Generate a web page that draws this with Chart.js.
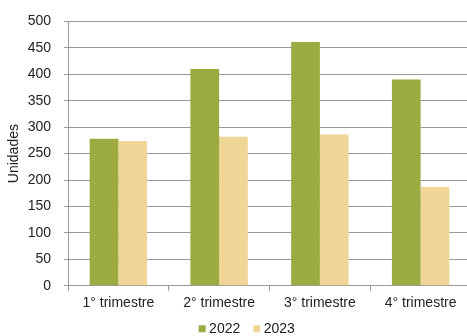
<!DOCTYPE html>
<html>
<head>
<meta charset="utf-8">
<script src="https://cdn.jsdelivr.net/npm/chart.js@4/dist/chart.umd.min.js"></script>
<style>
  html, body { margin: 0; padding: 0; background: #fff; overflow: hidden; }
  #wrap { width: 472px; height: 336px; }
</style>
</head>
<body>
<div id="wrap"><canvas id="myChart" width="472" height="336"></canvas></div>
<script>
const quarters = ['1° trimestre', '2° trimestre', '3° trimestre', '4° trimestre'];
const units2022 = [278, 410, 461, 390];
const units2023 = [274, 282, 286, 187];
const yTicks = [0, 50, 100, 150, 200, 250, 300, 350, 400, 450, 500];

// nudge the legend a little, Chart.js ties item spacing to vertical padding
const legendNudge = {
    id: 'legendNudge',
    afterLayout(chart, args, opts) {
        const lg = chart.legend;
        lg.left += opts.dx; lg.right += opts.dx;
        lg.top += opts.dy;
        lg.bottom = chart.height;
    }
};

const font = { family: 'Liberation Sans, Arial, sans-serif', size: 14 };
const gridColor = '#9a9a9a';

new Chart(document.getElementById('myChart').getContext('2d'), {
    type: 'bar',
    data: {
        labels: quarters,
        datasets: [
            { label: '2022', data: units2022, backgroundColor: '#9baa41', borderWidth: 0 },
            { label: '2023', data: units2023, backgroundColor: '#f0d696', borderWidth: 0 }
        ]
    },
    plugins: [legendNudge],
    options: {
        responsive: false,
        animation: false,
        layout: { padding: { top: 18.5, right: 1, left: 0, bottom: 0 } },
        categoryPercentage: 0.57,
        barPercentage: 1,
        plugins: {
            tooltip: { enabled: false },
            legendNudge: { dx: 13, dy: -5.8 },
            legend: {
                position: 'bottom',
                maxHeight: 24.9,
                labels: {
                    font: font,
                    color: '#222',
                    usePointStyle: true,
                    pointStyle: 'rect',
                    boxWidth: 0.01,
                    boxHeight: 7,
                    padding: 16.5
                }
            }
        },
        scales: {
            x: {
                afterFit: axis => { axis.height = 25.3; },
                grid: { drawOnChartArea: false, drawTicks: true, tickLength: 5, color: gridColor },
                border: { color: gridColor },
                ticks: { font: font, color: '#222', padding: 3.5 }
            },
            y: {
                min: 0,
                max: 500,
                afterBuildTicks: axis => { axis.ticks = yTicks.map(v => ({ value: v })); },
                afterFit: axis => { axis.width = 68; },
                grid: { color: gridColor, tickLength: 4 },
                border: { color: gridColor },
                ticks: { font: font, color: '#222', padding: 13 },
                title: {
                    display: true,
                    text: 'Unidades',
                    font: font,
                    color: '#222',
                    padding: { top: 6, bottom: 5 }
                }
            }
        }
    }
});
</script>
</body>
</html>
